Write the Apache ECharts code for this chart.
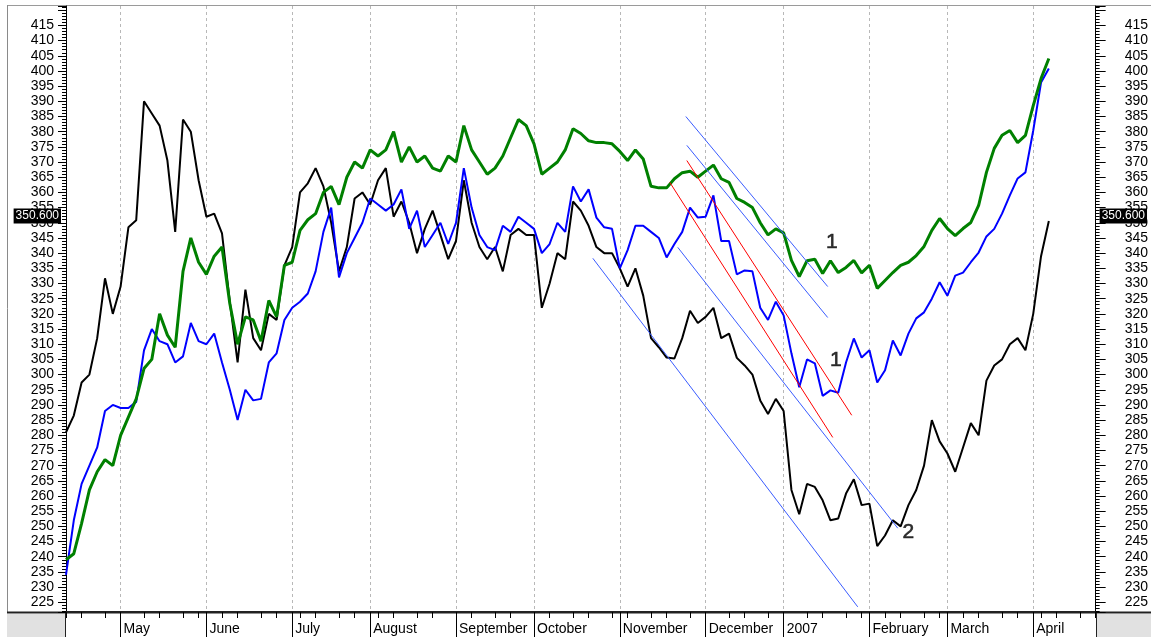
<!DOCTYPE html>
<html>
<head>
<meta charset="utf-8">
<script src="https://cdn.jsdelivr.net/npm/echarts@6/dist/echarts.min.js"></script>
<style>
html, body { margin: 0; padding: 0; background: #fff; }
#main { width: 1151px; height: 637px; }
</style>
</head>
<body>
<div id="main"></div>
<script>
var dom = document.getElementById('main');
var myChart = echarts.init(dom);

// month blocks of the time axis (each category = 2 trading days)
var monthNames = ['April', 'May', 'June', 'July', 'August', 'September', 'October', 'November', 'December', '2007', 'February', 'March', 'April'];
var monthSamples = [7, 11, 11, 10, 11, 10, 11, 11, 10, 11, 10, 11, 9];

// closing values, one every 2 trading days
var blackValues = [
    281, 286.5, 297.4, 300, 312, 331.7, 320, 329, 348.5, 350.8,
    390, 386, 382, 370.5, 347, 384, 380, 364, 352, 353,
    346.5, 324, 304, 328, 312, 308, 320, 318, 336, 342,
    360, 363, 368, 362, 350, 334, 342, 358, 360, 356,
    364, 368, 352, 357, 350, 340, 348, 354, 346, 338,
    344, 364, 350, 342, 338, 342, 334, 346, 348, 346,
    346, 322, 330, 340, 338, 357, 354, 349, 342, 340,
    340, 335, 329, 335, 326, 312, 309, 305.6, 305.3, 312,
    321, 317, 319, 322, 312, 313.5, 305.5, 303, 300, 291.5,
    287, 292, 288, 262, 254, 264, 263, 258.6, 252, 252.6,
    260.8, 265.5, 257, 257.5, 243.5, 247, 252, 250, 257, 262,
    270, 285, 278, 274, 268, 276, 284, 280, 298, 303,
    305, 310, 312, 308, 320, 339, 350.6
];
var blueValues = [
    234, 252, 264, 270, 276, 288, 290, 289, 289, 291,
    308, 315, 311, 310, 304, 306, 317, 311, 310, 313.5,
    304, 295, 285, 295, 291.5, 292, 304, 307, 318, 322,
    324, 326.7, 334, 347, 355, 332, 340, 345, 350, 358,
    356, 354, 356, 361, 348, 354, 342, 346, 350, 343,
    350, 368, 355, 346, 342, 341, 349, 347, 352, 350,
    348, 340, 343, 350, 347, 362, 357, 361, 351.7, 348.5,
    348, 335, 341, 349, 349, 347, 345, 338.6, 343, 347,
    355, 351.7, 352, 359, 344, 344, 333, 334.3, 334, 322,
    318, 324, 319.5, 307, 295.8, 305, 303.7, 293, 294.8, 294,
    304, 311.9, 305.6, 308, 297.4, 301.4, 311.2, 306.3, 313.5, 318.5,
    320.5, 325, 330.4, 326, 332.6, 333.6, 337, 340.2, 345.5, 348,
    353, 359, 364.6, 366.6, 380.4, 396.2, 400.8
];
var greenValues = [
    239, 241, 251, 262, 268, 272, 270, 280, 286, 292,
    302, 305, 320, 313, 309, 334, 345, 337, 333, 339,
    342, 323.4, 310, 319, 318, 311, 324.4, 319, 336, 337,
    347.5, 351, 353, 360, 362, 356, 365, 370, 368, 374,
    372, 374, 380, 370, 375, 370, 372, 368, 367, 372,
    370, 382, 374, 370, 366, 368, 372, 378, 384, 382,
    376, 366, 368, 370, 374, 381, 379.4, 377, 376.4, 376.4,
    376, 373.5, 370.5, 374, 371, 362, 361.5, 361.5, 364.5, 366.5,
    367, 365, 367, 369, 364.5, 363.3, 358, 356.7, 355, 350,
    346, 348, 346.7, 337.6, 332.3, 337.5, 338, 333.3, 337.5, 333.6,
    335.3, 337.6, 333.5, 336, 328.4, 331, 333.6, 336, 337, 339.2,
    342.2, 347.5, 351.4, 348.1, 345.8, 348.1, 350.1, 355.7, 366.6, 374.5,
    378.8, 380.4, 376.4, 378.8, 388.6, 397.5, 404.1
];

// hand drawn channels: [startIndex, startValue], [endIndex, endValue]
var blueChannels = [
    [[79.46, 385.0], [97.65, 329.0]],
    [[79.59, 375.5], [97.65, 318.8]],
    [[78.43, 341.9], [106.63, 249.4]],
    [[67.54, 338.3], [101.5, 223.5]]
];
var redChannels = [
    [[79.59, 370.5], [100.73, 286.6]],
    [[77.41, 363.3], [98.3, 279.3]]
];
var waveLabels = [
    { name: '1', value: [98.17, 343.5] },
    { name: '1', value: [98.68, 304.7] },
    { name: '2', value: [108.0, 248.0] }
];
var lastClose = 350.6;

////////////////////////////////////////

var categories = [];
var monthStarts = [];
monthNames.forEach(function (name, m) {
    if (m > 0) monthStarts.push(categories.length);
    for (var k = 0; k < monthSamples[m]; k++) {
        categories.push(m + ':' + name + ':' + k);
    }
});
function isMonthStart(i) { return monthStarts.indexOf(i) >= 0; }
function isWeekTick(i) { return i % 5 === 0 || i % 5 === 2; }

var font = "'Liberation Sans', Arial, sans-serif";

var yAxisBase = {
    type: 'value',
    min: 221.8,
    max: 421.4,
    splitNumber: 40,
    minInterval: 5,
    maxInterval: 5,
    splitLine: { show: false },
    axisLine: { show: true, lineStyle: { color: '#000', width: 1 } },
    axisTick: { show: true, length: 8, lineStyle: { color: '#000' } },
    minorTick: { show: true, splitNumber: 5, length: 4, lineStyle: { color: '#000' } },
    axisLabel: {
        fontSize: 14, color: '#000', fontFamily: font,
        showMinLabel: false, showMaxLabel: false,
        formatter: function (v) { return (v > 417 || v < 223) ? '' : String(v); }
    }
};

var series = [];
series.push({
    type: 'line', data: blackValues, symbol: 'none', z: 3,
    lineStyle: { color: '#000', width: 2 },
    markLine: {
        symbol: 'none', silent: true,
        lineStyle: { color: 'rgba(0,0,0,0)', width: 0 },
        label: {
            show: true, offset: [0, -5],
            formatter: '350.600', color: '#fff', backgroundColor: '#000',
            padding: [2, 2, 1, 2], fontSize: 12, fontFamily: font, distance: 5
        },
        data: [
            { yAxis: lastClose, label: { position: 'start' } },
            { yAxis: lastClose, label: { position: 'end', distance: 4 } }
        ]
    }
});
series.push({
    type: 'line', data: blueValues, symbol: 'none', z: 4,
    lineStyle: { color: '#0000ff', width: 2 }
});
series.push({
    type: 'line', data: greenValues, symbol: 'none', z: 5,
    lineStyle: { color: '#008000', width: 3 }
});
blueChannels.forEach(function (seg) {
    series.push({
        type: 'line', xAxisIndex: 2, data: seg, symbol: 'none', z: 6,
        lineStyle: { color: '#3a5cff', width: 1 }
    });
});
redChannels.forEach(function (seg) {
    series.push({
        type: 'line', xAxisIndex: 2, data: seg, symbol: 'none', z: 6,
        lineStyle: { color: '#ff0000', width: 1 }
    });
});
series.push({
    type: 'scatter', xAxisIndex: 2, data: waveLabels, symbolSize: 0, z: 7,
    itemStyle: { color: '#000' },
    label: {
        show: true, position: 'inside', formatter: '{b}',
        fontSize: 21, color: '#000', textBorderColor: '#000', textBorderWidth: 0.6, fontFamily: font
    }
});

var option = {
    animation: false,
    backgroundColor: '#fff',
    grid: { left: 66, right: 55, top: 6, bottom: 25, containLabel: false },
    xAxis: [{
        type: 'category', data: categories, boundaryGap: false, position: 'bottom',
        axisLine: { show: true, lineStyle: { color: '#222', width: 2 } },
        axisTick: { show: true, length: 25, interval: isMonthStart, lineStyle: { color: '#000' } },
        axisLabel: {
            show: true, interval: isMonthStart, align: 'left', margin: 10,
            padding: [0, 0, 0, 3], fontSize: 14, color: '#000', fontFamily: font,
            formatter: function (v) { return v.split(':')[1]; }
        },
        splitLine: { show: true, interval: isMonthStart, lineStyle: { color: '#b8b8b8', type: [3, 3] } }
    }, {
        type: 'category', data: categories, boundaryGap: false, position: 'bottom',
        axisLine: { show: false },
        axisTick: { show: true, length: 6, interval: isWeekTick, lineStyle: { color: '#000' } },
        axisLabel: { show: false },
        splitLine: { show: false }
    }, {
        type: 'value', min: 0, max: categories.length - 1, show: false
    }],
    yAxis: [
        Object.assign({}, yAxisBase, { position: 'left', axisLabel: Object.assign({}, yAxisBase.axisLabel, { margin: 12 }) }),
        Object.assign({}, yAxisBase, {
            position: 'right',
            axisTick: { show: true, length: 10, lineStyle: { color: '#000' } },
            axisLabel: Object.assign({}, yAxisBase.axisLabel, { margin: 29 })
        })
    ],
    graphic: [
        { type: 'rect', z: -1, shape: { x: 7, y: 614, width: 58, height: 23 }, style: { fill: '#e1e1e1' } },
        { type: 'rect', z: -1, shape: { x: 1097, y: 614, width: 54, height: 23 }, style: { fill: '#e1e1e1' } },
        { type: 'line', shape: { x1: 7, y1: 5.5, x2: 1151, y2: 5.5 }, style: { stroke: '#9a9a9a', lineWidth: 1 } },
        { type: 'line', shape: { x1: 7.5, y1: 5, x2: 7.5, y2: 612 }, style: { stroke: '#8a8a8a', lineWidth: 1 } },
        { type: 'line', shape: { x1: 7, y1: 612.5, x2: 1151, y2: 612.5 }, style: { stroke: '#222', lineWidth: 2 } },
        { type: 'line', shape: { x1: 65.5, y1: 612, x2: 65.5, y2: 637 }, style: { stroke: '#222', lineWidth: 1 } },
        { type: 'line', shape: { x1: 1096.5, y1: 612, x2: 1096.5, y2: 637 }, style: { stroke: '#222', lineWidth: 1 } }
    ],
    series: series
};

if (option && typeof option === 'object') {
    myChart.setOption(option, true);
}
window.addEventListener('resize', function () {
    myChart.resize();
});
</script>
</body>
</html>
